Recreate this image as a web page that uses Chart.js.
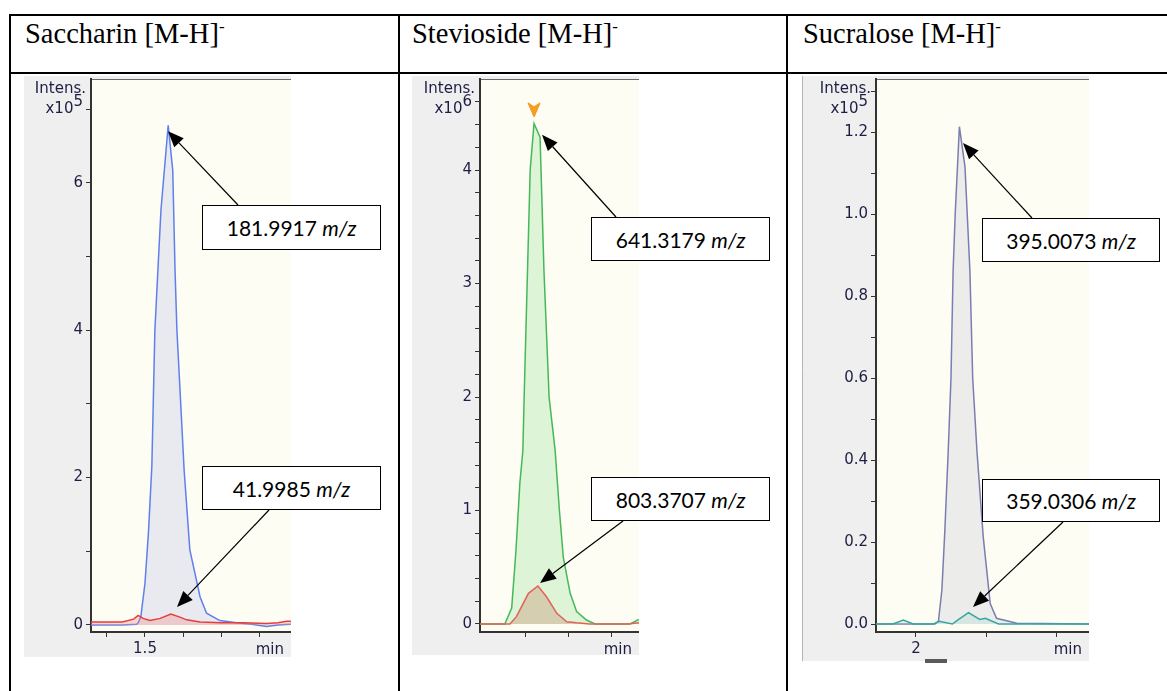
<!DOCTYPE html>
<html><head><meta charset="utf-8">
<script src="https://cdn.jsdelivr.net/npm/chart.js@4.4.1/dist/chart.umd.min.js"></script>
<style>
html,body{margin:0;padding:0;background:#fff;}
body{width:1167px;height:691px;position:relative;overflow:hidden;}
.ln{position:absolute;background:#000;}
.hdr{position:absolute;font-family:"Liberation Serif","Times New Roman",serif;font-size:28.5px;line-height:28px;color:#000;top:20px;white-space:nowrap;}
.hdr span{font-size:17px;position:relative;top:-11px;}
canvas{position:absolute;}
.box{position:absolute;background:#fff;border:1px solid #000;box-sizing:border-box;font-family:Lato,"Open Sans",sans-serif;font-size:21px;color:#000;display:flex;align-items:center;justify-content:center;white-space:nowrap;}
#ov{position:absolute;left:0;top:0;pointer-events:none;}
.thumb{position:absolute;left:925px;top:659px;width:22px;height:4px;background:#5a5a5a;}
</style>
</head><body>
<div class="ln" style="left:9px;top:14px;width:1158px;height:2px"></div>
<div class="ln" style="left:9px;top:72px;width:1158px;height:2px"></div>
<div class="ln" style="left:9px;top:14px;width:2px;height:677px"></div>
<div class="ln" style="left:398px;top:14px;width:2px;height:677px"></div>
<div class="ln" style="left:786px;top:14px;width:2px;height:677px"></div>
<div class="hdr" style="left:25px">Saccharin [M-H]<span>-</span></div>
<div class="hdr" style="left:412px">Stevioside [M-H]<span>-</span></div>
<div class="hdr" style="left:803px">Sucralose [M-H]<span>-</span></div>
<canvas id="c1" width="267" height="581" style="left:24px;top:76px"></canvas>
<canvas id="c2" width="227" height="579" style="left:412px;top:76px"></canvas>
<canvas id="c3" width="287" height="585" style="left:802px;top:76px"></canvas>
<div class="thumb"></div>
<svg id="ov" width="1167" height="691"></svg>
<script>
// ---------- Saccharin (x10^5) ----------
const sacBlueTime = [1.358,1.40,1.44,1.478,1.482,1.489,1.50,1.509,1.518,1.526,1.534,1.542,1.561,1.573,1.579,1.584,1.603,1.618,1.645,1.662,1.697,1.741,1.78,1.82,1.85,1.884];
const sacBlueInt  = [0.0,0.0,0.0,0.01,0.03,0.11,0.57,1.25,2.15,4.0,4.82,5.63,6.78,6.17,4.82,4.0,2.1,1.02,0.38,0.16,0.06,0.03,0.01,-0.02,0.0,0.01];
const sacRedTime  = [1.358,1.40,1.44,1.47,1.482,1.495,1.513,1.54,1.568,1.59,1.61,1.645,1.70,1.76,1.82,1.85,1.873,1.884];
const sacRedInt   = [0.04,0.04,0.04,0.08,0.13,0.09,0.06,0.09,0.15,0.11,0.07,0.04,0.03,0.03,0.02,0.03,0.05,0.05];
const sacXTicks  = [1.4,1.5,1.6,1.7,1.8];
const sacXLabels = ['','1.5','','',''];
const sacYTicks  = [0,1,2,3,4,5,6,7];
const sacYLabels = ['0','','2','','4','','6',''];

// ---------- Stevioside (x10^6) ----------
const steGreenTime = [2.0953,2.142,2.153,2.169,2.179,2.188,2.195,2.198,2.205,2.212,2.221,2.235,2.244,2.256,2.27,2.28,2.289,2.305,2.32,2.343,2.363,2.444,2.465];
const steGreenInt  = [0,0,0,0.14,0.65,1.24,1.53,2.0,3.0,4.0,4.41,4.29,3.12,2.0,1.53,1.0,0.59,0.27,0.11,0.035,0,0,0.04];
const steRedTime   = [2.0953,2.165,2.18,2.208,2.23,2.25,2.274,2.297,2.32,2.35,2.44,2.465];
const steRedInt    = [0,0,0.065,0.27,0.335,0.24,0.094,0.02,0.01,0,0,0.01];
const steMarker    = [2.221, 4.53];
const steXTicks  = [2.2,2.3,2.4];
const steXLabels = ['','',''];
const steYTicks  = [0,0.2,0.4,0.6,0.8,1,1.2,1.4,1.6,1.8,2,2.2,2.4,2.6,2.8,3,3.2,3.4,3.6,3.8,4,4.2,4.4,4.6];
const steYLabels = ['0','','','','','1','','','','','2','','','','','3','','','','','4','','',''];

// ---------- Sucralose (x10^5) ----------
const sucMainTime = [1.9429,2.027,2.032,2.037,2.041,2.046,2.05,2.053,2.056,2.062,2.07,2.077,2.081,2.087,2.096,2.106,2.115,2.144,2.2471];
const sucMainInt  = [0,0,0.006,0.083,0.22,0.42,0.6,0.86,1.0,1.213,1.115,0.863,0.6,0.424,0.213,0.05,0.014,0.002,0];
const sucTealTime = [1.9429,1.967,1.982,1.996,2.025,2.033,2.052,2.06,2.075,2.091,2.099,2.118,2.2471];
const sucTealInt  = [0,0,0.0098,0,0,0.0065,0,0.01,0.0276,0.011,0.014,0,0];
const sucXTicks  = [2.0,2.1,2.2];
const sucXLabels = ['2','',''];
const sucYTicks  = [0,0.1,0.2,0.3,0.4,0.5,0.6,0.7,0.8,0.9,1.0,1.1,1.2,1.3];
const sucYLabels = ['0.0','','0.2','','0.4','','0.6','','0.8','','1.0','','1.2',''];

const annLabels = ['181.9917','41.9985','641.3179','803.3707','395.0073','359.0306'];

const TXT = '#1e1e44';
const FONT = 'DejaVu Sans';

// orange "V" peak marker
const chevron = document.createElement('canvas');
chevron.width = 14; chevron.height = 16;
(function () {
  const g = chevron.getContext('2d');
  g.fillStyle = '#f7a21c'; g.strokeStyle = '#ec8f12'; g.lineWidth = 1;
  g.beginPath(); g.moveTo(1, 1); g.lineTo(7, 5); g.lineTo(13, 1); g.lineTo(7, 15); g.closePath();
  g.fill(); g.stroke();
})();

const bgPlugin = {
  id: 'panelbg',
  beforeDraw(chart, args, o) {
    const {ctx, chartArea: a, width, height} = chart;
    ctx.save();
    ctx.fillStyle = '#efefef'; ctx.fillRect(0, 0, width, height);
    ctx.fillStyle = '#fdfdf3'; ctx.fillRect(a.left, a.top, a.right - a.left, a.bottom - a.top);
    ctx.strokeStyle = '#6a6a6a'; ctx.lineWidth = 1;
    ctx.beginPath(); ctx.moveTo(a.left, a.top + 0.5); ctx.lineTo(a.right, a.top + 0.5); ctx.stroke();
    if (o.leftLine) {
      ctx.strokeStyle = '#b4b4b4';
      ctx.beginPath(); ctx.moveTo(0.5, 0); ctx.lineTo(0.5, height); ctx.stroke();
    }
    ctx.restore();
  },
  afterDraw(chart, args, o) {
    const {ctx, chartArea: a} = chart;
    ctx.save();
    ctx.fillStyle = TXT;
    ctx.textBaseline = 'alphabetic';
    ctx.font = '15px "' + FONT + '"';
    ctx.textAlign = 'right';
    ctx.fillText('Intens.', a.left - 5, a.top + 14);
    ctx.font = '15px "' + FONT + '"';
    ctx.textAlign = 'left';
    const w1 = ctx.measureText('x10').width, w2 = ctx.measureText(o.power).width;
    const x0 = a.left - 8 - w1 - w2;
    ctx.fillText('x10', x0, a.top + 34);
    ctx.fillText(o.power, x0 + w1, a.top + 27);
    ctx.textAlign = 'right';
    ctx.textBaseline = 'middle';
    ctx.fillText('min', a.right - 7, a.bottom + 18);
    ctx.restore();
  }
};

function series(t, v, color, fill, order) {
  return {
    data: t.map((x, i) => ({x: x, y: v[i]})),
    borderColor: color, backgroundColor: fill || 'rgba(0,0,0,0)',
    fill: fill ? 'origin' : false, borderWidth: 1.5, pointRadius: 0,
    tension: 0, order: order
  };
}

function panel(id, c) {
  const tickFont = {family: FONT, size: 15};
  return new Chart(document.getElementById(id), {
    type: 'line',
    data: {datasets: c.datasets},
    options: {
      responsive: false, animation: false, devicePixelRatio: 1,
      layout: {padding: {top: 3, left: 0, right: 0, bottom: 0}, autoPadding: false},
      plugins: {legend: {display: false}, tooltip: {enabled: false}, panelbg: {power: c.power, leftLine: !!c.leftLine}},
      scales: {
        x: {
          type: 'linear', min: c.xMin, max: c.xMax,
          afterBuildTicks: s => { s.ticks = c.xTicks.map(v => ({value: v})); },
          afterFit: s => { s.height = c.xH; s.paddingLeft = 0; s.paddingRight = 0; },
          ticks: {autoSkip: false, maxRotation: 0, minRotation: 0, padding: 3, color: TXT, font: tickFont,
                  callback: (v, i) => c.xLabels[i]},
          grid: {drawOnChartArea: false, drawTicks: true, tickLength: 5, tickColor: '#333', lineWidth: 1},
          border: {display: true, color: '#333', width: 2}
        },
        y: {
          type: 'linear', min: c.yMin, max: c.yMax,
          afterBuildTicks: s => { s.ticks = c.yTicks.map(v => ({value: v})); },
          afterFit: s => { s.width = c.yW; s.paddingTop = 0; s.paddingBottom = 0; },
          ticks: {autoSkip: false, padding: 3, color: TXT, font: tickFont,
                  callback: (v, i) => c.yLabels[i]},
          grid: {drawOnChartArea: false, drawTicks: true, tickLength: 5, tickColor: '#333', lineWidth: 1},
          border: {display: true, color: '#333', width: 2}
        }
      }
    },
    plugins: [bgPlugin]
  });
}

const charts = [];
charts.push(panel('c1', {
  datasets: [
    series(sacRedTime, sacRedInt, '#e83c3c', 'rgba(240,140,140,0.35)', 0),
    series(sacBlueTime, sacBlueInt, '#5f7fee', 'rgba(215,218,235,0.55)', 1)
  ],
  power: '5', xMin: 1.3579, xMax: 1.8842, yMin: -0.095, yMax: 7.408,
  xTicks: sacXTicks, xLabels: sacXLabels, yTicks: sacYTicks, yLabels: sacYLabels, xH: 25, yW: 67
}));
charts.push(panel('c2', {
  datasets: [
    {data: [{x: steMarker[0], y: steMarker[1]}], showLine: false, pointStyle: chevron,
     pointRadius: 7, borderColor: '#f7a21c', order: -1},
    series(steRedTime, steRedInt, '#e4615a', 'rgba(205,160,130,0.45)', 0),
    series(steGreenTime, steGreenInt, '#45b85a', 'rgba(190,235,185,0.5)', 1)
  ],
  power: '6', xMin: 2.0953, xMax: 2.4651, yMin: -0.0705, yMax: 4.802,
  xTicks: steXTicks, xLabels: steXLabels, yTicks: steYTicks, yLabels: steYLabels, xH: 23, yW: 68
}));
charts.push(panel('c3', {
  datasets: [
    series(sucTealTime, sucTealInt, '#35a6a0', 'rgba(150,210,205,0.25)', 0),
    series(sucMainTime, sucMainInt, '#7b7db2', 'rgba(225,225,228,0.6)', 1)
  ],
  power: '5', leftLine: true, xMin: 1.9429, xMax: 2.2471, yMin: -0.0195, yMax: 1.3293,
  xTicks: sucXTicks, xLabels: sucXLabels, yTicks: sucYTicks, yLabels: sucYLabels, xH: 29, yW: 74
}));

// annotation boxes + arrows (tip anchored to data coordinates)
const annotations = [
  {panel: 0, box: [202, 205, 179, 45], tail: [238, 205], tip: [1.5605, 6.70]},
  {panel: 0, box: [202, 466, 179, 44], tail: [269, 510], tip: [1.5842, 0.244]},
  {panel: 1, box: [591, 217, 179, 44], tail: [616, 217], tip: [2.2395, 4.31]},
  {panel: 1, box: [591, 477, 179, 44], tail: [623, 521], tip: [2.2349, 0.361]},
  {panel: 2, box: [982, 218, 178, 44], tail: [1032, 218], tip: [2.0671, 1.173]},
  {panel: 2, box: [982, 479, 178, 43], tail: [1063, 522], tip: [2.0814, 0.0415]}
];
const svg = document.getElementById('ov');
const NS = 'http://www.w3.org/2000/svg';
annotations.forEach((a, k) => {
  const d = document.createElement('div');
  d.className = 'box';
  d.style.left = a.box[0] + 'px'; d.style.top = a.box[1] + 'px';
  d.style.width = a.box[2] + 'px'; d.style.height = a.box[3] + 'px';
  d.innerHTML = annLabels[k] + '&nbsp;<i>m/z</i>';
  document.body.insertBefore(d, svg);
  const ch = charts[a.panel], cv = ch.canvas;
  const tx = cv.offsetLeft + ch.scales.x.getPixelForValue(a.tip[0]);
  const ty = cv.offsetTop + ch.scales.y.getPixelForValue(a.tip[1]);
  const sx = a.tail[0], sy = a.tail[1];
  const dx = tx - sx, dy = ty - sy, L = Math.hypot(dx, dy), ux = dx / L, uy = dy / L;
  const hl = 16, hw = 6.5;
  const bx = tx - ux * hl, by = ty - uy * hl;
  const ln = document.createElementNS(NS, 'line');
  ln.setAttribute('x1', sx); ln.setAttribute('y1', sy);
  ln.setAttribute('x2', bx); ln.setAttribute('y2', by);
  ln.setAttribute('stroke', '#000'); ln.setAttribute('stroke-width', '1.2');
  svg.appendChild(ln);
  const pg = document.createElementNS(NS, 'polygon');
  pg.setAttribute('points', [tx, ty, bx - uy * hw, by + ux * hw, bx + uy * hw, by - ux * hw].join(' '));
  pg.setAttribute('fill', '#000');
  svg.appendChild(pg);
});
</script>
</body></html>
